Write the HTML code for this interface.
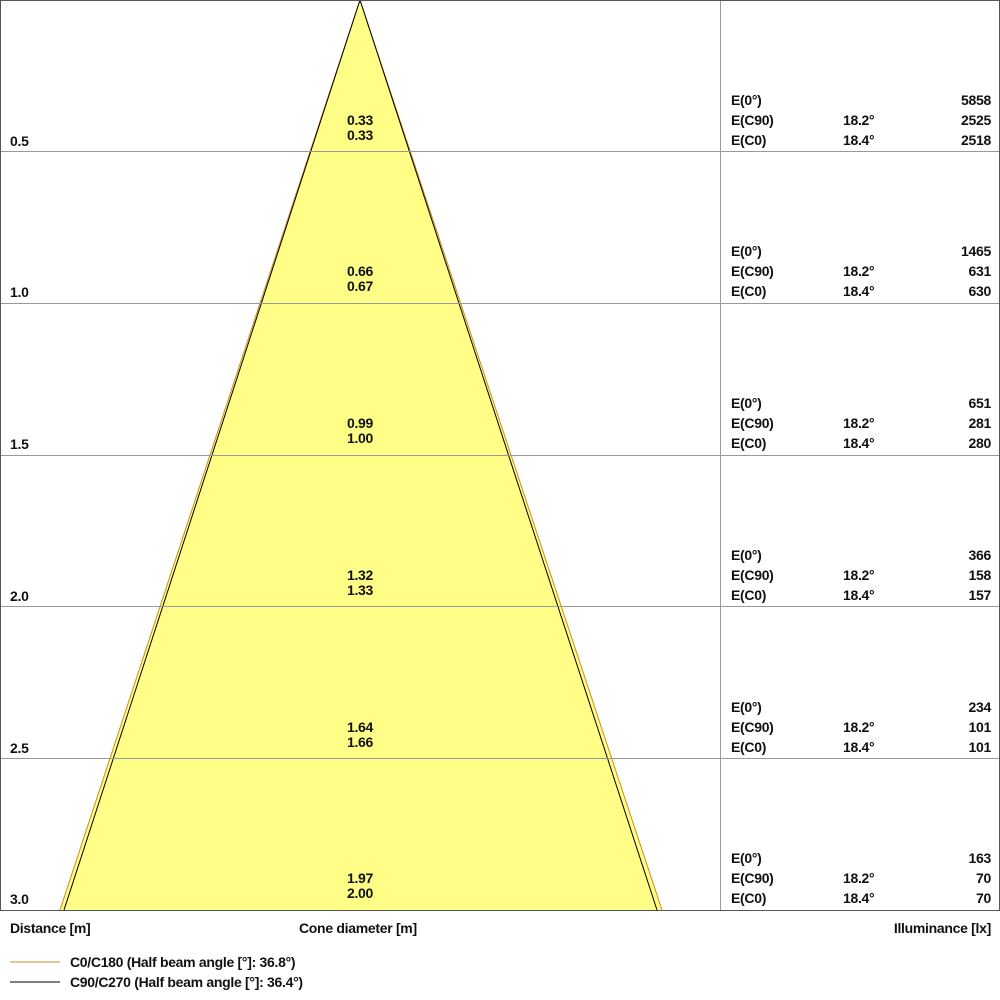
<!DOCTYPE html>
<html><head><style>
body{margin:0;background:#fff;width:1000px;height:1000px;overflow:hidden;position:relative;font-family:"Liberation Sans",Arial,sans-serif;font-weight:bold;font-size:14px;letter-spacing:-0.3px;color:#111}
.t{position:absolute;line-height:16px;white-space:nowrap}
.r{text-align:right}
.c{text-align:center;width:80px}
</style></head><body>
<svg width="1000" height="1000" style="position:absolute;left:0;top:0">
<polygon points="360,0 60,910 662,910" fill="#ffff88"/>
<line x1="360" y1="0" x2="60" y2="910" stroke="#d08a20" stroke-width="1"/>
<line x1="360" y1="0" x2="662" y2="910" stroke="#d08a20" stroke-width="1"/>
<line x1="360" y1="0" x2="64" y2="910" stroke="#000" stroke-width="1"/>
<line x1="360" y1="0" x2="657" y2="910" stroke="#000" stroke-width="1"/>
<g stroke="#999" stroke-width="1">
<line x1="0" y1="151.5" x2="1000" y2="151.5"/>
<line x1="0" y1="303.5" x2="1000" y2="303.5"/>
<line x1="0" y1="455.5" x2="1000" y2="455.5"/>
<line x1="0" y1="606.5" x2="1000" y2="606.5"/>
<line x1="0" y1="758.5" x2="1000" y2="758.5"/>
<line x1="720.5" y1="0" x2="720.5" y2="910"/>
</g>
<rect x="0.5" y="0.5" width="999" height="910" fill="none" stroke="#555" stroke-width="1"/>
<line x1="10" y1="962" x2="60" y2="962" stroke="#d08a20"/>
<line x1="10" y1="982" x2="60" y2="982" stroke="#000"/>
</svg>
<div id="c"></div>
<script>
var d=[["0.5","0.33","0.33","5858","2525","2518"],["1.0","0.66","0.67","1465","631","630"],["1.5","0.99","1.00","651","281","280"],["2.0","1.32","1.33","366","158","157"],["2.5","1.64","1.66","234","101","101"],["3.0","1.97","2.00","163","70","70"]];
var h="";
d.forEach(function(r,i){var L=151.7*(i+1);
h+='<div class="t" style="left:10px;top:'+(L-19)+'px">'+r[0]+'</div>';
h+='<div class="t c" style="left:320px;top:'+(L-40)+'px">'+r[1]+'</div>';
h+='<div class="t c" style="left:320px;top:'+(L-25)+'px">'+r[2]+'</div>';
h+='<div class="t" style="left:731px;top:'+(L-60)+'px">E(0°)</div>';
h+='<div class="t" style="left:731px;top:'+(L-40)+'px">E(C90)</div>';
h+='<div class="t" style="left:731px;top:'+(L-20)+'px">E(C0)</div>';
h+='<div class="t" style="left:843px;top:'+(L-40)+'px">18.2°</div>';
h+='<div class="t" style="left:843px;top:'+(L-20)+'px">18.4°</div>';
h+='<div class="t r" style="right:9px;top:'+(L-60)+'px">'+r[3]+'</div>';
h+='<div class="t r" style="right:9px;top:'+(L-40)+'px">'+r[4]+'</div>';
h+='<div class="t r" style="right:9px;top:'+(L-20)+'px">'+r[5]+'</div>';
});
document.getElementById("c").innerHTML=h;
</script>
<div class="t" style="left:10px;top:920px">Distance [m]</div>
<div class="t" style="left:299px;top:920px">Cone diameter [m]</div>
<div class="t r" style="right:9px;top:920px">Illuminance [lx]</div>
<div class="t" style="left:70px;top:954px">C0/C180 (Half beam angle [°]: 36.8°)</div>
<div class="t" style="left:70px;top:974px">C90/C270 (Half beam angle [°]: 36.4°)</div>
</body></html>
